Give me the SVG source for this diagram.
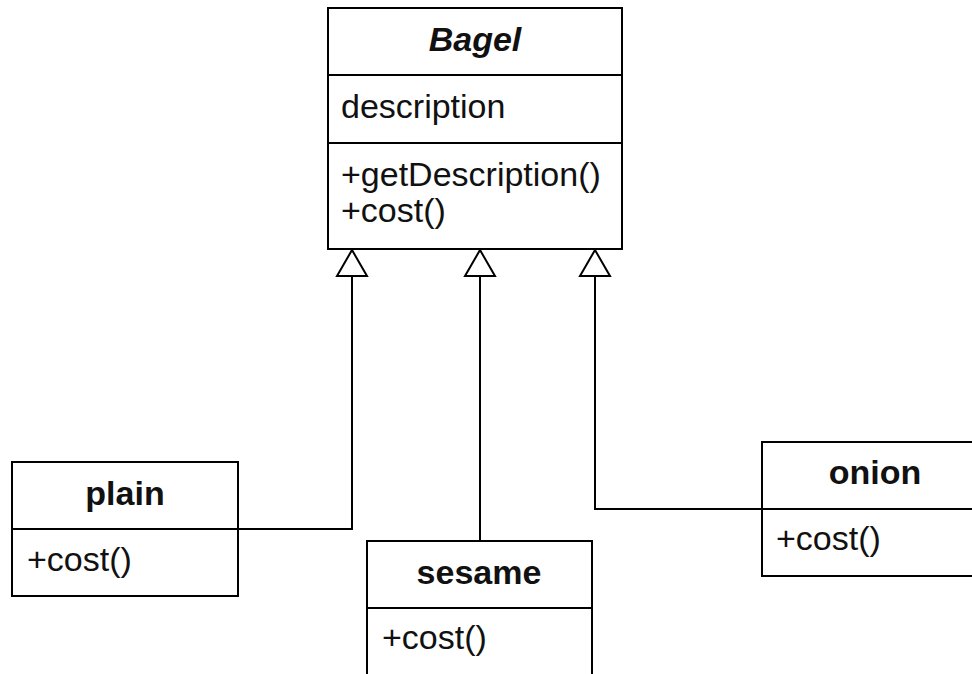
<svg xmlns="http://www.w3.org/2000/svg" width="972" height="674" viewBox="0 0 972 674">
  <defs>
    <style>
      .box { fill: #ffffff; stroke: #000000; stroke-width: 2; }
      .sep { stroke: #000000; stroke-width: 2; }
      .edge { fill: none; stroke: #000000; stroke-width: 2; }
      .head { fill: #ffffff; stroke: #000000; stroke-width: 2; stroke-linejoin: miter; }
      text { font-family: "Liberation Sans", Arial, sans-serif; font-size: 34px; fill: #111111; }
      .title { font-weight: bold; text-anchor: middle; }
      .abstract { font-style: italic; }
    </style>
  </defs>
  <rect width="972" height="674" fill="#ffffff"/>

  <!-- generalization connectors -->
  <g id="connectors">
    <path class="edge" d="M352 276 V529 H238"/>
    <path class="edge" d="M480 276 V541"/>
    <path class="edge" d="M595 276 V509 H762"/>
    <polygon class="head" points="352,250 367,276 337,276"/>
    <polygon class="head" points="480,250 495,276 465,276"/>
    <polygon class="head" points="595,250 610,276 580,276"/>
  </g>

  <g id="Bagel">
    <rect class="box" x="328" y="8" width="294" height="241"/>
    <line class="sep" x1="328" y1="75" x2="622" y2="75"/>
    <line class="sep" x1="328" y1="143" x2="622" y2="143"/>
    <text class="title abstract" x="475" y="51">Bagel</text>
    <text x="341" y="118">description</text>
    <text x="341" y="186">+getDescription()</text>
    <text x="341" y="222">+cost()</text>
  </g>

  <g id="plain">
    <rect class="box" x="12" y="462" width="226" height="134"/>
    <line class="sep" x1="12" y1="529" x2="238" y2="529"/>
    <text class="title" x="125" y="505">plain</text>
    <text x="27" y="571">+cost()</text>
  </g>

  <g id="sesame">
    <rect class="box" x="367" y="541" width="225" height="150"/>
    <line class="sep" x1="367" y1="608" x2="592" y2="608"/>
    <text class="title" x="479" y="584">sesame</text>
    <text x="382" y="649">+cost()</text>
  </g>

  <g id="onion">
    <rect class="box" x="762" y="442" width="226" height="134"/>
    <line class="sep" x1="762" y1="509" x2="988" y2="509"/>
    <text class="title" x="875" y="484">onion</text>
    <text x="776" y="550">+cost()</text>
  </g>
</svg>
